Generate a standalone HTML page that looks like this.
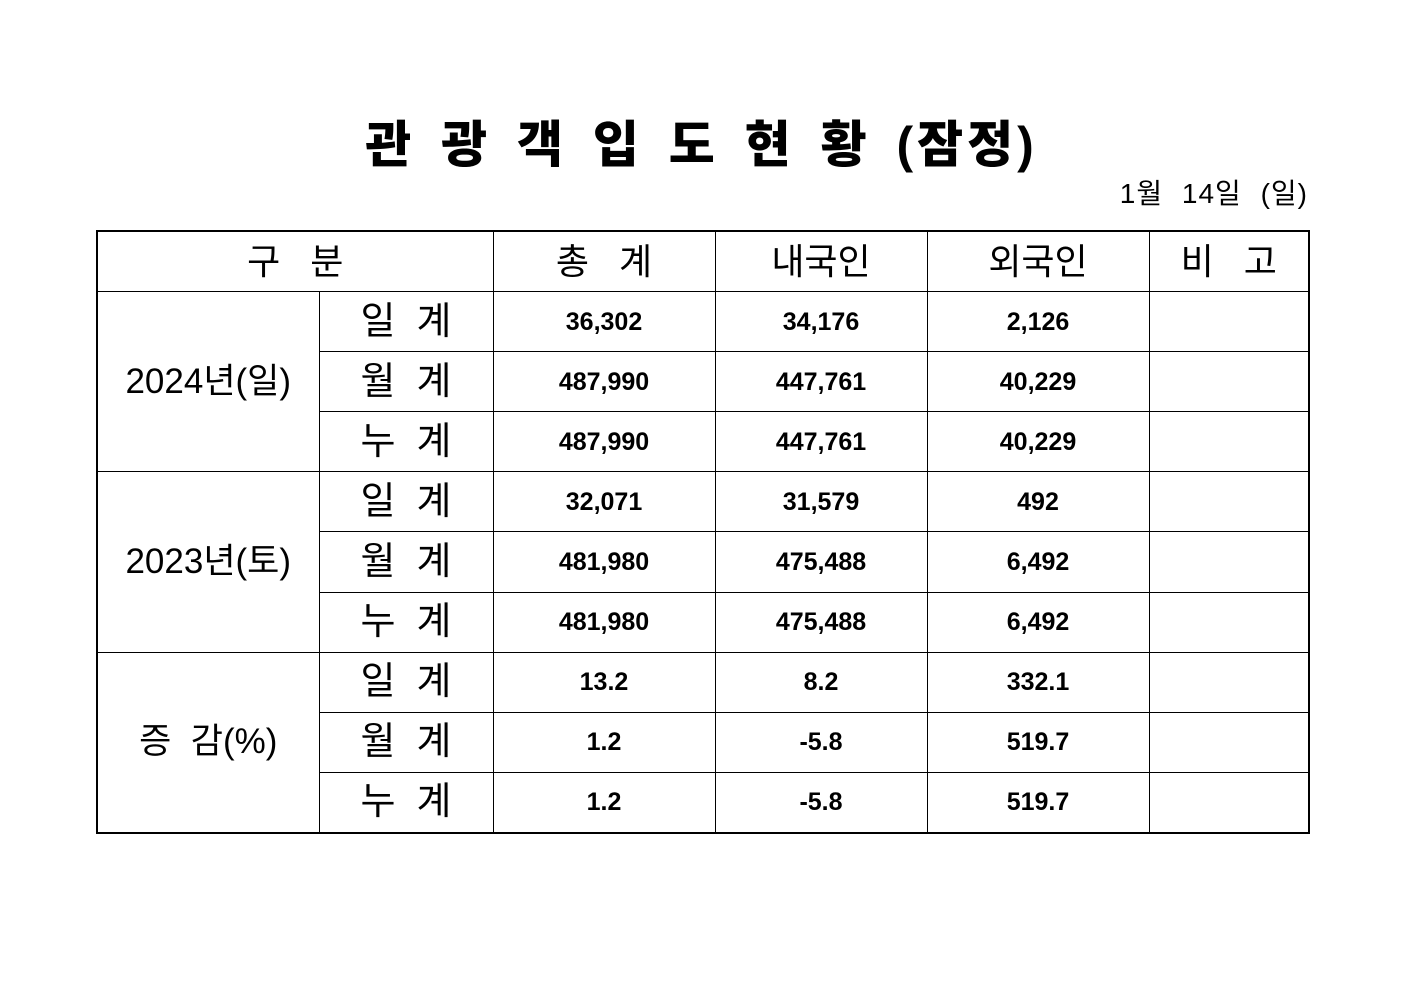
<!DOCTYPE html>
<html><head><meta charset="utf-8"><style>
body{margin:0;width:1403px;height:992px;background:#fff;position:relative;font-family:"Liberation Sans","Noto Sans CJK KR",sans-serif;color:#000}
.title{position:absolute;left:0;width:1403px;top:112px;text-align:center;font-size:50px;font-weight:900;letter-spacing:4px;word-spacing:8px;line-height:66px}
.date{position:absolute;right:95px;top:176px;font-size:28px;line-height:36px;word-spacing:10px;letter-spacing:1px}
table{position:absolute;left:96px;top:230px;width:1213px;height:604px;border-collapse:collapse;table-layout:fixed;border:2px solid #000}
td{border:1px solid #000;text-align:center;padding:0;height:59px;line-height:40px}
.h{font-size:36px}
.l{font-size:38px}
.y{font-size:35px;letter-spacing:0}
.n{font-size:25px;font-weight:bold}
</style></head><body>
<div class="title">관 광 객 입 도 현 황 (잠정)</div>
<div class="date">1월 14일 (일)</div>
<table>
<colgroup><col style="width:222px"><col style="width:174px"><col style="width:222px"><col style="width:212px"><col style="width:222px"><col style="width:160px"></colgroup>
<tr style="height:60px"><td colspan="2" class="h">구&nbsp;&nbsp;&nbsp;분</td><td class="h">총&nbsp;&nbsp;&nbsp;계</td><td class="h">내국인</td><td class="h">외국인</td><td class="h">비&nbsp;&nbsp;&nbsp;고</td></tr>
<tr><td rowspan="3" class="y">2024년(일)</td><td class="l">일&nbsp;&nbsp;계</td><td class="n">36,302</td><td class="n">34,176</td><td class="n">2,126</td><td></td></tr>
<tr><td class="l">월&nbsp;&nbsp;계</td><td class="n">487,990</td><td class="n">447,761</td><td class="n">40,229</td><td></td></tr>
<tr><td class="l">누&nbsp;&nbsp;계</td><td class="n">487,990</td><td class="n">447,761</td><td class="n">40,229</td><td></td></tr>
<tr><td rowspan="3" class="y">2023년(토)</td><td class="l">일&nbsp;&nbsp;계</td><td class="n">32,071</td><td class="n">31,579</td><td class="n">492</td><td></td></tr>
<tr><td class="l">월&nbsp;&nbsp;계</td><td class="n">481,980</td><td class="n">475,488</td><td class="n">6,492</td><td></td></tr>
<tr><td class="l">누&nbsp;&nbsp;계</td><td class="n">481,980</td><td class="n">475,488</td><td class="n">6,492</td><td></td></tr>
<tr><td rowspan="3" class="y">증&nbsp;&nbsp;감(%)</td><td class="l">일&nbsp;&nbsp;계</td><td class="n">13.2</td><td class="n">8.2</td><td class="n">332.1</td><td></td></tr>
<tr><td class="l">월&nbsp;&nbsp;계</td><td class="n">1.2</td><td class="n">-5.8</td><td class="n">519.7</td><td></td></tr>
<tr><td class="l">누&nbsp;&nbsp;계</td><td class="n">1.2</td><td class="n">-5.8</td><td class="n">519.7</td><td></td></tr>
</table>
</body></html>
